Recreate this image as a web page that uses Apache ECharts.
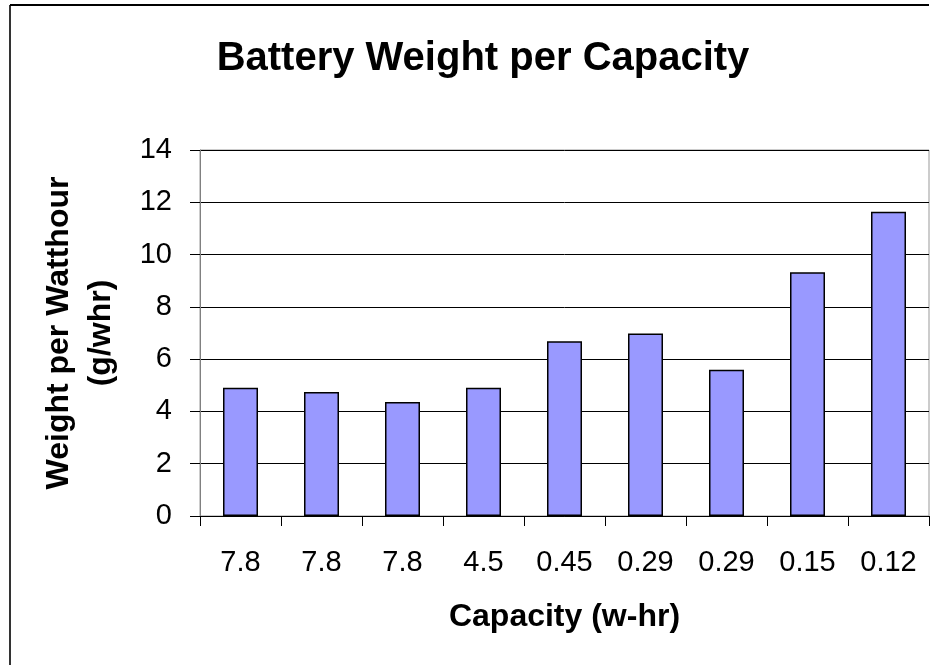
<!DOCTYPE html>
<html lang="en">

<head>
    <meta charset="UTF-8" />
    <title>Battery Weight per Capacity</title>
    <script src="https://cdn.jsdelivr.net/npm/echarts@6/dist/echarts.min.js"></script>
</head>

<body style="margin:0">
    <div id="main" style="width: 938px; height: 665px"></div>
    <script type="text/javascript">
        // capacity of each battery (w-hr), shown as category labels
        const capacities = ["7.8", "7.8", "7.8", "4.5", "0.45", "0.29", "0.29", "0.15", "0.12"];
        // weight per watthour (g/whr)
        const weights = [4.91, 4.74, 4.36, 4.91, 6.68, 6.98, 5.59, 9.32, 11.64];

        const font = "'Liberation Sans', Arial, sans-serif";

        let myChart = echarts.init(document.getElementById("main"));
        let options = {
            backgroundColor: "#fff",
            animation: false,
            title: {
                text: "Battery Weight per Capacity",
                left: 478,
                top: 34,
                textAlign: "center",
                textStyle: { fontFamily: font, fontSize: 40, fontWeight: "bold", color: "#000" },
            },
            grid: {
                left: 200, right: 9, top: 150, bottom: 149,
                show: true, borderColor: "#999", borderWidth: 1,
            },
            graphic: [
                // outer chart-area frame (only left and top edges are visible)
                { type: "line", shape: { x1: 10, y1: 5, x2: 10, y2: 665 }, style: { stroke: "#333", lineWidth: 2 } },
                { type: "line", shape: { x1: 10, y1: 5, x2: 929, y2: 5 }, style: { stroke: "#000", lineWidth: 2 } },
            ],
            xAxis: {
                type: "category",
                data: capacities,
                name: "Capacity (w-hr)",
                nameLocation: "middle",
                nameGap: 85,
                nameTextStyle: { fontFamily: font, fontSize: 32, fontWeight: "bold", color: "#000" },
                axisLine: { lineStyle: { color: "#000", width: 1 } },
                axisTick: { show: true, interval: 0, length: 10, lineStyle: { color: "#000" } },
                axisLabel: { interval: 0, margin: 32, fontFamily: font, fontSize: 29, color: "#000" },
            },
            yAxis: {
                type: "value",
                min: 0,
                max: 14,
                interval: 2,
                name: "Weight per Watthour\n(g/whr)",
                nameLocation: "middle",
                nameGap: 78,
                nameRotate: 90,
                nameTextStyle: { fontFamily: font, fontSize: 32, fontWeight: "bold", color: "#000", lineHeight: 42 },
                axisLine: { show: true, lineStyle: { color: "#808080", width: 1 } },
                axisTick: { show: true, length: 10, lineStyle: { color: "#000" } },
                axisLabel: { margin: 28, fontFamily: font, fontSize: 29, color: "#000" },
                splitLine: { lineStyle: { color: "#000", width: 1 } },
            },
            series: [
                {
                    name: "Weight per Watthour",
                    type: "bar",
                    data: weights,
                    barWidth: 35,
                    itemStyle: { color: "#9999FF", borderColor: "#000", borderWidth: 1.5 },
                },
            ],
        };
        myChart.setOption(options);
    </script>
</body>

</html>
